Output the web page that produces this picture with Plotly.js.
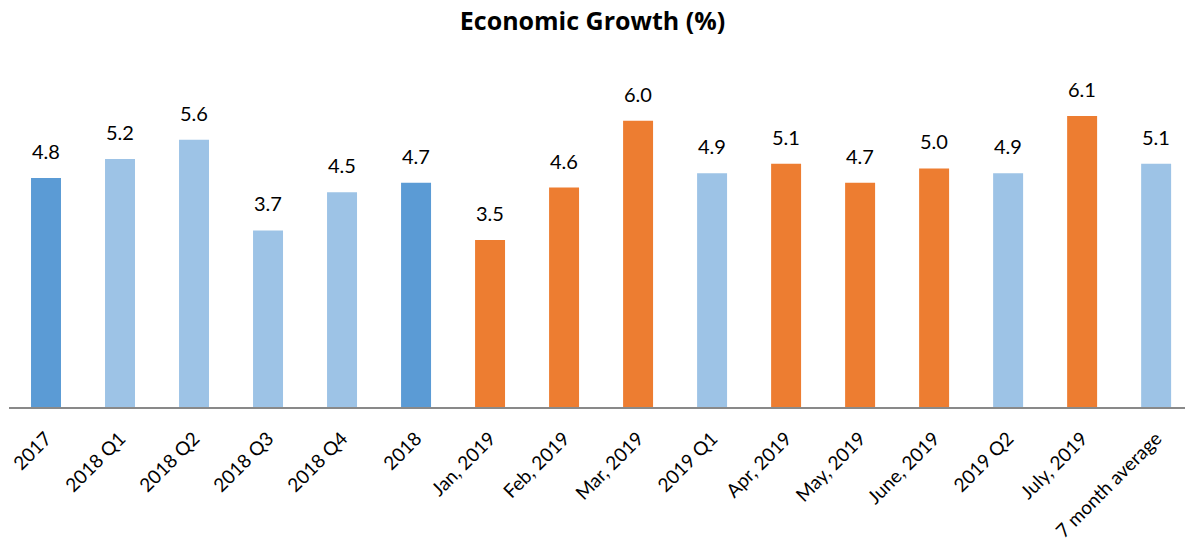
<!DOCTYPE html>
<html><head><meta charset="utf-8">
<script src="https://cdn.plot.ly/plotly-3.0.1.min.js"></script>
<style>html,body{margin:0;padding:0;background:#fff}#chart{width:1185px;height:541px}</style>
</head><body><div id="chart"></div>
<script>
const categories = ["2017","2018 Q1","2018 Q2","2018 Q3","2018 Q4","2018","Jan, 2019","Feb, 2019","Mar, 2019","2019 Q1","Apr, 2019","May, 2019","June, 2019","2019 Q2","July, 2019","7 month average"];
const growth = [4.8,5.2,5.6,3.7,4.5,4.7,3.5,4.6,6.0,4.9,5.1,4.7,5.0,4.9,6.1,5.1];
const kinds = ["year","quarter","quarter","quarter","quarter","year","month","month","month","quarter","month","month","month","quarter","month","quarter"];
const palette = {year:"#5B9BD5", quarter:"#9DC3E6", month:"#ED7D31"};

const font = "Lato, 'Open Sans', sans-serif";
const trace = {
  type: "bar",
  x: categories,
  y: growth,
  marker: {color: kinds.map(k => palette[k])},
  hoverinfo: "x+y"
};
const labels = categories.map((c, i) => ({
  x: i, y: growth[i], xref: "x", yref: "y",
  text: growth[i].toFixed(1), showarrow: false,
  yanchor: "bottom", yshift: 13,
  font: {family: font, size: 20, color: "#000"}
}));
const layout = {
  width: 1185, height: 541,
  margin: {l: 9, r: 0, t: 73, b: 134},
  title: {text: "<b>Economic Growth (%)</b>", x: 0.5, xanchor: "center", yref: "container", y: 0.961, yanchor: "middle",
          font: {family: "'Open Sans', sans-serif", size: 25, color: "#000"}},
  bargap: 0.595,
  showlegend: false,
  annotations: labels,
  plot_bgcolor: "#fff", paper_bgcolor: "#fff",
  xaxis: {type: "category", range: [-0.5, 15.39], tickangle: -45, ticklabelstandoff: 11,
          tickfont: {family: font, size: 19, color: "#000"},
          showline: true, linecolor: "#898989", linewidth: 2, ticks: "", showgrid: false, zeroline: false},
  yaxis: {range: [0, 7], visible: false, showgrid: false, zeroline: false}
};
Plotly.newPlot("chart", [trace], layout, {displayModeBar: false, staticPlot: true});
</script></body></html>
